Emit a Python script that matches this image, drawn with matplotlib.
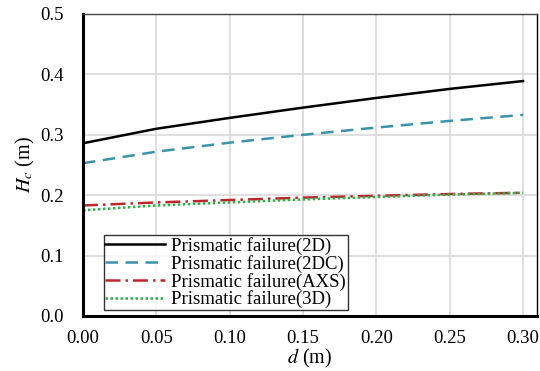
import matplotlib.pyplot as plt
import numpy as np

plt.rcParams["font.family"] = ["Liberation Serif", "DejaVu Serif"]
plt.rcParams["mathtext.fontset"] = "stix"

d = [0.0, 0.05, 0.10, 0.15, 0.20, 0.25, 0.30]
hc_2d = [0.286, 0.310, 0.328, 0.345, 0.361, 0.376, 0.389]
hc_2dc = [0.253, 0.272, 0.287, 0.300, 0.312, 0.323, 0.333]
hc_axs = [0.183, 0.188, 0.192, 0.196, 0.199, 0.202, 0.204]
hc_3d = [0.175, 0.183, 0.188, 0.193, 0.197, 0.201, 0.204]

labels = ["Prismatic failure(2D)", "Prismatic failure(2DC)",
          "Prismatic failure(AXS)", "Prismatic failure(3D)"]

fig = plt.figure(figsize=(5.4, 3.71), dpi=100)
ax = fig.add_axes([83 / 540, 1 - 316 / 371, (537 - 83) / 540, (316 - 14) / 371])

ax.plot(d, hc_2d, color="black", lw=1.8, label=labels[0])
ax.plot(d, hc_2dc, color="#3b93aa", lw=1.8, ls=(0, (5, 3)), label=labels[1])
ax.plot(d, hc_axs, color="#c0272d", lw=1.8, ls=(0, (6, 2, 1, 2)), label=labels[2])
ax.plot(d, hc_3d, color="#2fae4a", lw=1.8, ls=(0, (1, 1)), label=labels[3])

ax.set_xlim(0, 0.3095)
ax.set_ylim(0, 0.5)
ax.set_xticks(np.arange(0, 0.301, 0.05))
ax.set_xticklabels([f"{v:.2f}" for v in np.arange(0, 0.301, 0.05)])
ax.set_yticks(np.arange(0, 0.501, 0.1))
ax.set_yticklabels([f"{v:.1f}" for v in np.arange(0, 0.501, 0.1)])
ax.tick_params(length=0, labelsize=13.5)
ax.tick_params(axis="x", pad=10)
ax.tick_params(axis="y", pad=14)
ax.grid(True, color="#d9d9d9", lw=1.2)
ax.set_axisbelow(True)
ax.spines["left"].set_linewidth(2.2)
ax.spines["bottom"].set_linewidth(2.2)
ax.spines["top"].set_linewidth(1.0)
ax.spines["top"].set_color("#444444")
ax.spines["right"].set_linewidth(1.0)

ax.set_xlabel("$d$ (m)", fontsize=14.5, labelpad=0)
ax.set_ylabel("$H_c$ (m)", fontsize=14.5, labelpad=2)

leg = ax.legend(loc="lower left", bbox_to_anchor=(0.033, 0.0), fontsize=13.5,
                frameon=True, fancybox=False, edgecolor="black",
                handlelength=3.2, handletextpad=0.3, borderpad=0.1,
                labelspacing=0.0, borderaxespad=0.3)
leg.get_frame().set_linewidth(1.0)

fig.savefig("out.png", dpi=100)
